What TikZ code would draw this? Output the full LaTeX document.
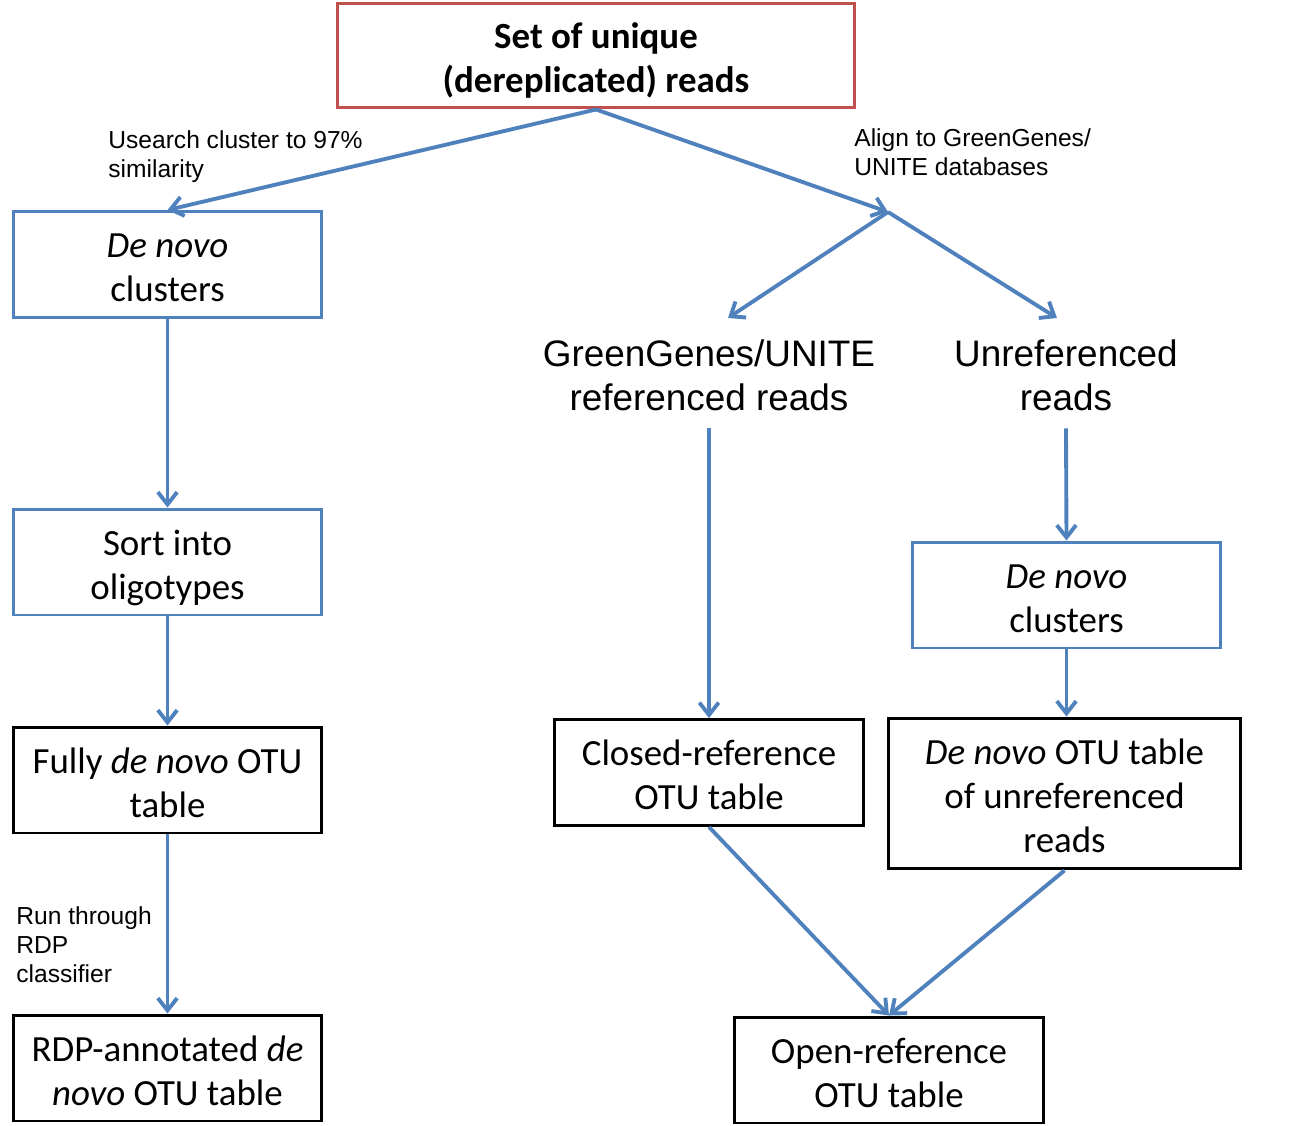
\documentclass[tikz,border=0pt]{standalone}
\usepackage{fontspec}
\setmainfont{Carlito}
\newfontfamily\labelfont{Liberation Sans}
\usetikzlibrary{arrows.meta}
\definecolor{flowblue}{HTML}{4F81BD}
\definecolor{flowred}{HTML}{C0504D}
\newcommand\topstrut{\rule{0pt}{23.2pt}}
\tikzset{
  box/.style={draw,line width=1.7pt,align=center,inner sep=0pt,minimum width=6.18cm,minimum height=2.12cm,font=\fontsize{21}{25}\selectfont,
    execute at end node={\rule[-6pt]{0pt}{6pt}}},
  bluebox/.style={box,draw=flowblue},
  blackbox/.style={box,draw=black},
  flow/.style={draw=flowblue,line width=2.2pt,-{Straight Barb[length=7pt,width=11pt]}},
  biglabel/.style={align=center,inner sep=0pt,minimum height=2.12cm,font=\labelfont\fontsize{21}{25}\selectfont},
  smalllabel/.style={align=left,inner sep=0pt,anchor=north west,font=\labelfont\fontsize{14}{16.5}\selectfont}
}
\begin{document}
\begin{tikzpicture}[x=0.02cm,y=-0.02cm]
\useasboundingbox (0,0) rectangle (1296,1126);
\node[box,draw=flowred,font=\bfseries\fontsize{21}{25}\selectfont,minimum width=10.36cm,minimum height=2.1cm] (uniq) at (596,55.5) {\topstrut Set of unique\\(dereplicated) reads};
% left column
\node[bluebox] (dnclus) at (167.5,264.5) {\topstrut\textit{De novo}\\clusters};
\node[bluebox] (oligo) at (167.5,562) {\topstrut Sort into\\oligotypes};
\node[blackbox] (fullotu) at (167.5,780) {\topstrut Fully \textit{de novo} OTU\\table};
\node[blackbox] (rdpotu) at (167.5,1068) {\topstrut RDP-annotated \textit{de}\\\textit{novo} OTU table};
% right side
\node[biglabel] (refreads) at (709,375) {GreenGenes/UNITE\\referenced reads};
\node[biglabel] (unrefreads) at (1066,375) {Unreferenced\\reads};
\node[bluebox] (dnclusr) at (1066.5,595) {\topstrut\textit{De novo}\\clusters};
\node[blackbox] (closedotu) at (709,772.5) {\topstrut Closed-reference\\OTU table};
\node[blackbox,minimum width=7.06cm,minimum height=3.02cm] (dnotu) at (1064.5,793.5) {\topstrut\textit{De novo} OTU table\\of unreferenced\\reads};
\node[blackbox] (openotu) at (889,1070) {\topstrut Open-reference\\OTU table};
% step labels
\node[smalllabel] (uslabel) at (108,130) {Usearch cluster to 97\%\\similarity};
\node[smalllabel] (alignlabel) at (854,128) {Align to GreenGenes/\\UNITE databases};
\node[smalllabel] (rdplabel) at (16,906) {Run through\\RDP\\classifier};
\coordinate (split) at (888,212);
\coordinate (refin) at (728,318);
\coordinate (unrefin) at (1057,318);
% arrows
\draw[flow] (uniq.south) -- (dnclus.north);
\draw[flow] (uniq.south) -- (split);
\draw[flow] (split) -- (refin);
\draw[flow] (split) -- (unrefin);
\draw[flow] (dnclus.south) -- (oligo.north);
\draw[flow] (oligo.south) -- (fullotu.north);
\draw[flow] (fullotu.south) -- (rdpotu.north);
\draw[flow] (refreads.south) -- (closedotu.north);
\draw[flow] (unrefreads.south) -- (dnclusr.north);
\draw[flow] (dnclusr.south) -- (dnclusr.south |- dnotu.north);
\draw[flow] (closedotu.south) -- (openotu.north);
\draw[flow] (dnotu.south) -- (openotu.north);
\end{tikzpicture}
\end{document}
